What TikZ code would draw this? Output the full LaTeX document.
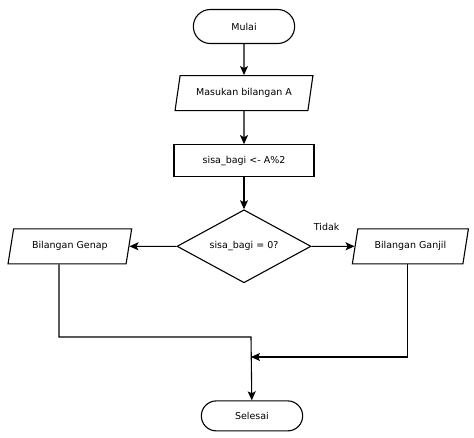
\documentclass[tikz,border=0pt]{standalone}
\usepackage{fontspec}
\setmainfont{DejaVu Sans}
\usepackage{tikz}
\usetikzlibrary{positioning,arrows.meta,shapes.geometric,shapes.misc}

\begin{document}
\begin{tikzpicture}[x=1pt, y=-1pt,
    font=\fontsize{9.5}{11}\selectfont,
    term/.style={rounded rectangle, draw, line width=1.1pt, minimum width=108pt, minimum height=34pt},
    io/.style={trapezium, trapezium left angle=71, trapezium right angle=109, trapezium stretches=true, draw, line width=1.1pt, minimum height=35pt, inner sep=1pt},
    proc/.style={rectangle, draw, line width=1.1pt, minimum width=140pt, minimum height=32pt},
    decide/.style={diamond, aspect=1.85, draw, line width=1.1pt, minimum width=134pt, minimum height=73pt, inner sep=0pt},
    arrow/.style={-{Stealth[length=9pt, width=8pt, inset=2pt]}, line width=1.1pt}
]
    \useasboundingbox (0,0) rectangle (474,438);

    \node[term] (start) at (244,26.5) {Mulai};
    \node[io, minimum width=138pt, below=31pt of start] (input) {Masukan bilangan A};
    \node[proc, below=33pt of input] (calc) {sisa\_bagi <- A\%2};
    \node[decide, below=32pt of calc] (check) {sisa\_bagi = 0?};
    \node[io, minimum width=124pt, left=47pt of check] (even) {Bilangan Genap};
    \node[io, minimum width=117pt, right=43pt of check] (odd) {Bilangan Ganjil};
    \node[term, minimum height=30pt, below=117pt of check, xshift=8pt] (stop) {Selesai};

    \coordinate (joinA) at (251,337);
    \coordinate (joinB) at (251,357);

    \draw[arrow] (start) -- (input);
    \draw[arrow] (input) -- (calc);
    \draw[arrow] (calc) -- (check);
    \draw[arrow] (check) -- (even);
    \draw[arrow] (check) -- node[pos=0.35, above=12pt] {Tidak} (odd);
    \draw[arrow] ([xshift=-8pt]even.bottom side) |- (joinA) -- (stop);
    \draw[arrow] (odd.bottom side) |- (joinB);
\end{tikzpicture}
\end{document}
